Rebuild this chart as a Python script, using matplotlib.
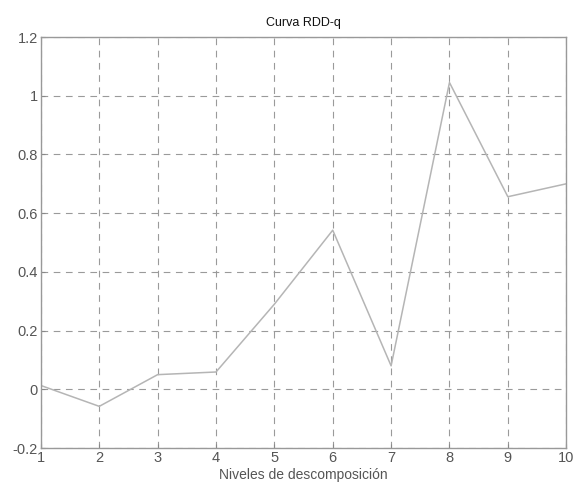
import matplotlib
matplotlib.use('Agg')
import matplotlib.pyplot as plt

# RDD-q curve per decomposition level
niveles = [1, 2, 3, 4, 5, 6, 7, 8, 9, 10]
rdd_q = [0.013, -0.058, 0.05, 0.059, 0.29, 0.542, 0.08, 1.045, 0.656, 0.70]
yticks = [-0.2, 0, 0.2, 0.4, 0.6, 0.8, 1, 1.2]
ytick_labels = ['-0.2', '0', '0.2', '0.4', '0.6', '0.8', '1', '1.2']

plt.rcParams['font.family'] = ['Liberation Sans', 'DejaVu Sans']
textcolor = '#555555'

fig = plt.figure(figsize=(5.76, 4.87), dpi=100)
ax = fig.add_axes([0.071, 0.080, 0.912, 0.844])

ax.plot(niveles, rdd_q, color='#b5b5b5', linewidth=1.1)

ax.set_xlim(1, 10)
ax.set_ylim(-0.2, 1.2)
ax.set_xticks(niveles)
ax.set_yticks(yticks)
ax.set_yticklabels(ytick_labels)
ax.grid(True, linestyle=(0, (6, 5)), color='#9a9a9a', linewidth=0.8)
ax.tick_params(direction='in', length=3, colors='#888888', labelcolor=textcolor,
               labelsize=10.5, pad=2)
for side in ax.spines.values():
    side.set_color('#999999')
    side.set_linewidth(1.0)

ax.set_title('Curva RDD-q', fontsize=9, color='#111111', pad=8)
ax.set_xlabel('Niveles de descomposición', fontsize=10, color=textcolor, labelpad=2)

fig.savefig('out.png', dpi=100)
